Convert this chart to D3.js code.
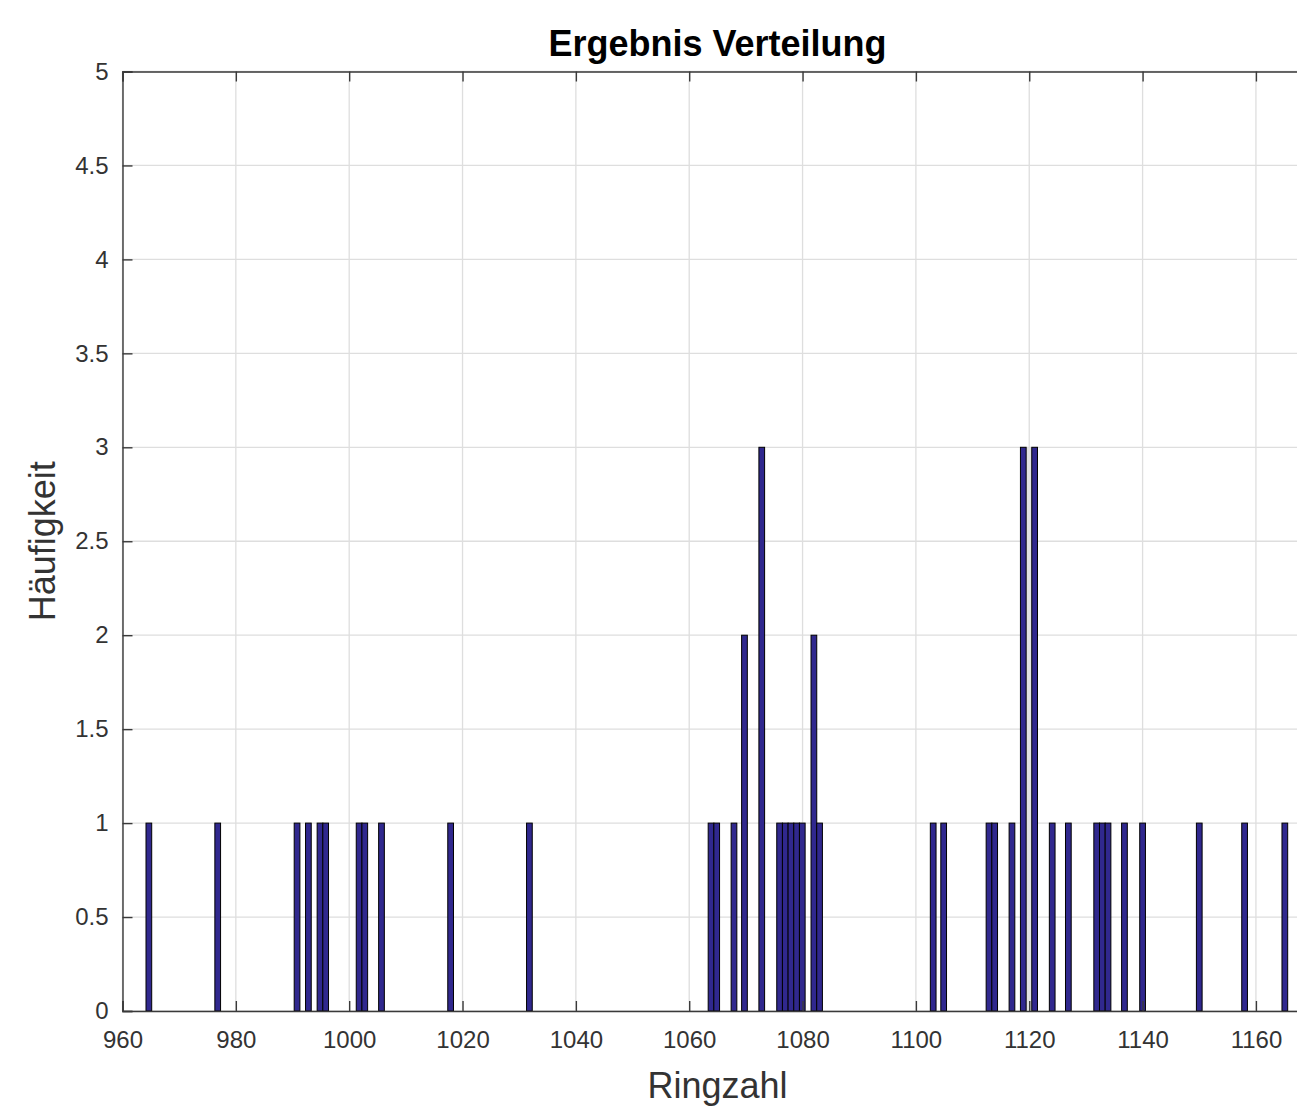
<!DOCTYPE html>
<html>
<head>
<meta charset="utf-8">
<script src="https://cdn.jsdelivr.net/npm/d3@7"></script>
<style>
  html, body { margin: 0; padding: 0; background: #fff; }
  svg { display: block; }
  text { font-family: "Liberation Sans", Arial, Helvetica, sans-serif; }
</style>
</head>
<body>
<svg id="chart" width="1297" height="1120"></svg>
<script>
// ---- data ----
const titleText = "Ergebnis Verteilung";
const xLabelText = "Ringzahl";
const yLabelText = "Häufigkeit";

// bin centres (Ringzahl) and counts
const binCenters = [
  964.65, 976.8, 990.8, 992.8, 994.85, 995.85, 1001.75, 1002.75, 1005.7,
  1017.9, 1031.8, 1063.85, 1064.85, 1067.9, 1069.75, 1072.8,
  1075.95, 1076.95, 1077.95, 1078.95, 1079.95, 1082.0, 1083.0,
  1103.05, 1104.9, 1112.9, 1113.9, 1116.95, 1118.95, 1120.95,
  1124.05, 1126.9, 1131.9, 1132.9, 1133.9, 1136.8, 1140.0,
  1150.0, 1158.0, 1165.1
];
const binCounts = [
  1, 1, 1, 1, 1, 1, 1, 1, 1,
  1, 1, 1, 1, 1, 2, 3,
  1, 1, 1, 1, 1, 2, 1,
  1, 1, 1, 1, 1, 3, 3,
  1, 1, 1, 1, 1, 1, 1,
  1, 1, 1
];
// light grey bin between the two tall bars near 1120
const greyCenters = [1119.95];
const greyCounts = [3];
const binWidth = 1.0075;

const xDomain = [960, 1170];
const yDomain = [0, 5];
const xTickValues = [960, 980, 1000, 1020, 1040, 1060, 1080, 1100, 1120, 1140, 1160];
const yTickValues = [0, 0.5, 1, 1.5, 2, 2.5, 3, 3.5, 4, 4.5, 5];
const yTickLabels = ["0", "0.5", "1", "1.5", "2", "2.5", "3", "3.5", "4", "4.5", "5"];

// ---- layout ----
const plotLeft = 122.5, plotRight = 1312.6, plotTop = 71.5, plotBottom = 1011;
const axisColor = "#3a3a3a";
const tickLen = 10;

const svg = d3.select("#chart");

const x = d3.scaleLinear().domain(xDomain).range([plotLeft, plotRight]);
const y = d3.scaleLinear().domain(yDomain).range([plotBottom, plotTop]);

// grid
const grid = svg.append("g").attr("class", "grid");
grid.selectAll("line.vx").data(xTickValues).enter().append("line")
  .attr("x1", d => x(d)).attr("x2", d => x(d))
  .attr("y1", plotTop).attr("y2", plotBottom)
  .attr("stroke", "#dedede").attr("stroke-width", 1.3);
grid.selectAll("line.hy").data(yTickValues).enter().append("line")
  .attr("x1", plotLeft).attr("x2", plotRight)
  .attr("y1", d => y(d)).attr("y2", d => y(d))
  .attr("stroke", "#dedede").attr("stroke-width", 1.3);

// grey bin
svg.append("g").selectAll("rect").data(greyCenters.map((c, i) => ({c, n: greyCounts[i]})))
  .enter().append("rect")
  .attr("x", d => x(d.c - binWidth / 2))
  .attr("width", d => x(d.c + binWidth / 2) - x(d.c - binWidth / 2))
  .attr("y", d => y(d.n))
  .attr("height", d => y(0) - y(d.n))
  .attr("fill", "#e2e2e2");

// bars
svg.append("g").selectAll("rect").data(binCenters.map((c, i) => ({c, n: binCounts[i]})))
  .enter().append("rect")
  .attr("x", d => x(d.c - binWidth / 2))
  .attr("width", d => x(d.c + binWidth / 2) - x(d.c - binWidth / 2))
  .attr("y", d => y(d.n))
  .attr("height", d => y(0) - y(d.n))
  .attr("fill", "#30288e")
  .attr("stroke", "#000")
  .attr("stroke-width", 1);

// axes (ticks inward)
const fontTick = 24;
const xAxisB = d3.axisBottom(x).tickValues(xTickValues).tickSize(-tickLen).tickPadding(20)
  .tickFormat(d3.format("d"));
const gxb = svg.append("g").attr("transform", `translate(0,${plotBottom})`).call(xAxisB);
const xAxisT = d3.axisTop(x).tickValues(xTickValues).tickSize(-tickLen).tickFormat("");
const gxt = svg.append("g").attr("transform", `translate(0,${plotTop})`).call(xAxisT);
const yAxisL = d3.axisLeft(y).tickValues(yTickValues).tickSize(-tickLen).tickPadding(14)
  .tickFormat((d, i) => yTickLabels[i]);
const gyl = svg.append("g").attr("transform", `translate(${plotLeft},0)`).call(yAxisL);
const yAxisR = d3.axisRight(y).tickValues(yTickValues).tickSize(-tickLen).tickFormat("");
const gyr = svg.append("g").attr("transform", `translate(${plotRight},0)`).call(yAxisR);

[gxb, gxt, gyl, gyr].forEach(g => {
  g.select(".domain").attr("stroke", axisColor).attr("stroke-width", 1.4);
  g.selectAll(".tick line").attr("stroke", axisColor).attr("stroke-width", 1.4);
  g.selectAll(".tick text").attr("fill", "#333333")
    .style("font-size", fontTick + "px")
    .style("font-family", '"Liberation Sans", Arial, sans-serif');
});

// title and labels
svg.append("text")
  .attr("x", (plotLeft + plotRight) / 2).attr("y", 56)
  .attr("text-anchor", "middle")
  .style("font-size", "36px").style("font-weight", "bold")
  .attr("fill", "#000")
  .text(titleText);

svg.append("text")
  .attr("x", (plotLeft + plotRight) / 2).attr("y", 1098)
  .attr("text-anchor", "middle")
  .style("font-size", "36px")
  .attr("fill", "#333333")
  .text(xLabelText);

svg.append("text")
  .attr("transform", `translate(55,${(plotTop + plotBottom) / 2}) rotate(-90)`)
  .attr("text-anchor", "middle")
  .style("font-size", "36px")
  .attr("fill", "#333333")
  .text(yLabelText);
</script>
</body>
</html>
